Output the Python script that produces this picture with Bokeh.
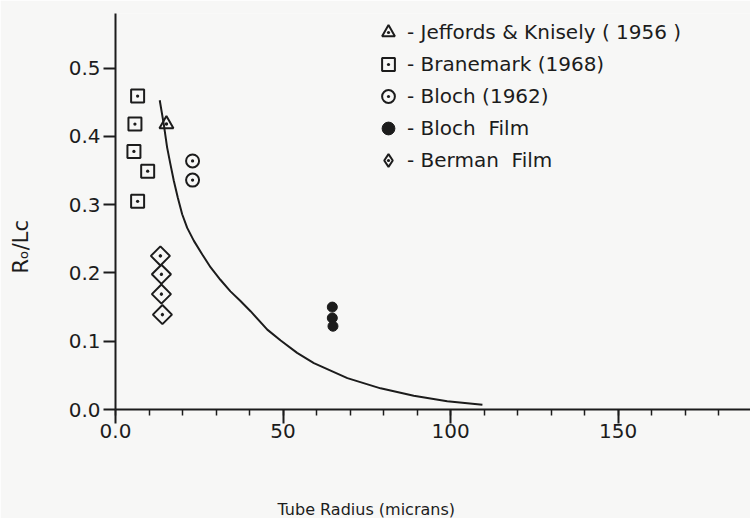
import math

from bokeh.plotting import figure
from bokeh.models import (ColumnDataSource, FixedTicker, Legend, LegendItem,
                          Range1d, Title)
from bokeh.embed import file_html
from bokeh.resources import INLINE

# --- data -----------------------------------------------------------------
# Jeffords & Knisely (1956)
jeff_r = [15.2]
jeff_v = [0.418]

# Branemark (1968)
bran_r = [6.6, 5.8, 5.5, 9.6, 6.6]
bran_v = [0.459, 0.418, 0.378, 0.349, 0.305]

# Bloch (1962)
bloch_r = [23.0, 23.0]
bloch_v = [0.364, 0.336]

# Bloch film
bfilm_r = [64.7, 64.7, 64.9]
bfilm_v = [0.150, 0.134, 0.122]

# Berman film
berman_r = [13.4, 13.7, 13.7, 14.0]
berman_v = [0.225, 0.198, 0.169, 0.139]

# theoretical curve, read along its length
curve_r = [13.2, 14.4, 15.4, 16.4, 17.4, 18.6, 19.9, 21.4, 23.4, 25.9,
           28.4, 31.3, 34.3, 37.3, 40.3, 45.3, 49.3, 54.2, 59.2, 69.2,
           79.1, 89.0, 99.0, 109.5]
curve_v = [0.453, 0.418, 0.384, 0.359, 0.335, 0.310, 0.286, 0.266, 0.247,
           0.227, 0.208, 0.190, 0.173, 0.159, 0.144, 0.117, 0.101, 0.083,
           0.068, 0.046, 0.031, 0.020, 0.012, 0.007]

x_ticks = [0, 50, 100, 150]
x_tick_labels = ["0.0", "50", "100", "150"]
x_minor = list(range(0, 190, 10))
y_ticks = [0.0, 0.1, 0.2, 0.3, 0.4, 0.5]
y_tick_labels = ["0.0", "0.1", "0.2", "0.3", "0.4", "0.5"]

INK = "#1c1c1c"
BG = "#f7f7f6"
FONT = "DejaVu Sans"

p = figure(width=750, height=518, output_backend="svg", toolbar_location=None,
           x_range=Range1d(0, 189.5), y_range=Range1d(0, 0.58),
           min_border_left=115, min_border_right=0, min_border_top=13,
           min_border_bottom=109,
           background_fill_color=BG, border_fill_color=BG)
p.outline_line_color = None
p.grid.visible = False

# axes
p.xaxis.ticker = FixedTicker(ticks=x_ticks, minor_ticks=x_minor)
p.xaxis.major_label_overrides = {t: l for t, l in zip(x_ticks, x_tick_labels)}
p.yaxis.ticker = FixedTicker(ticks=y_ticks, minor_ticks=[])
p.yaxis.major_label_overrides = {t: l for t, l in zip(y_ticks, y_tick_labels)}
for ax in (p.xaxis, p.yaxis):
    ax.axis_line_color = INK
    ax.axis_line_width = 2
    ax.major_tick_line_color = INK
    ax.major_tick_line_width = 2
    ax.minor_tick_line_color = INK
    ax.minor_tick_line_width = 1.5
    ax.major_tick_in = 0
    ax.minor_tick_in = 0
    ax.major_label_text_font = FONT
    ax.major_label_text_font_size = "20px"
    ax.major_label_text_color = INK
    # blank axis labels only reserve room between tick labels and titles
    ax.axis_label = " "
    ax.axis_label_text_font_size = "10px"
p.xaxis.major_tick_out = 14
p.xaxis.minor_tick_out = 6
p.xaxis.major_label_standoff = 0
p.xaxis.axis_label_standoff = 43
p.yaxis.major_tick_out = 12
p.yaxis.minor_tick_out = 0
p.yaxis.major_label_standoff = 3
p.yaxis.axis_label_standoff = 19

# axis titles
p.add_layout(Title(text="Tube Radius (micrans)", align="left", offset=162,
                   standoff=0, vertical_align="bottom", text_font=FONT,
                   text_font_size="16px", text_font_style="normal",
                   text_color=INK), "below")
p.add_layout(Title(text="Rₒ/Lc", align="left", offset=136, standoff=0,
                   vertical_align="bottom", text_font=FONT,
                   text_font_size="21px", text_font_style="normal",
                   text_color=INK), "left")

# curve
p.line(curve_r, curve_v, line_color=INK, line_width=2)

# measurements
mk = dict(line_color=INK, line_width=2, fill_color=None)
r_jeff = p.scatter(jeff_r, jeff_v, marker="triangle_dot", size=14, **mk)
r_bran = p.scatter(bran_r, bran_v, marker="square_dot", size=13, **mk)
r_bloch = p.scatter(bloch_r, bloch_v, marker="circle_dot", size=13, **mk)
r_bfilm = p.scatter(bfilm_r, bfilm_v, marker="circle", size=10,
                    line_color=INK, fill_color=INK)
# Berman diamonds: squares turned by 45 degrees
p.scatter(berman_r, berman_v, marker="square_dot", size=13.5,
          angle=math.pi / 4, **mk)
# legend key for the diamonds (legend keys are never rotated); its single
# point is NaN so it only appears in the legend
nan = float("nan")
r_berman_key = p.scatter("x", "y", source=ColumnDataSource(dict(x=[nan], y=[nan])),
                         marker="diamond_dot", size=16, **mk)

legend = Legend(items=[
    LegendItem(label="- Jeffords & Knisely ( 1956 )", renderers=[r_jeff]),
    LegendItem(label="- Branemark (1968)", renderers=[r_bran]),
    LegendItem(label="- Bloch (1962)", renderers=[r_bloch]),
    LegendItem(label="- Bloch  Film", renderers=[r_bfilm]),
    LegendItem(label="- Berman  Film", renderers=[r_berman_key]),
], location=(257, 233), glyph_width=32, glyph_height=32, label_height=32,
    spacing=0, padding=0, margin=0, label_standoff=3,
    border_line_alpha=0, background_fill_alpha=0,
    label_text_font=FONT, label_text_font_size="20px", label_text_color=INK)
p.add_layout(legend)

open("out.html", "w").write(file_html(p, INLINE))
